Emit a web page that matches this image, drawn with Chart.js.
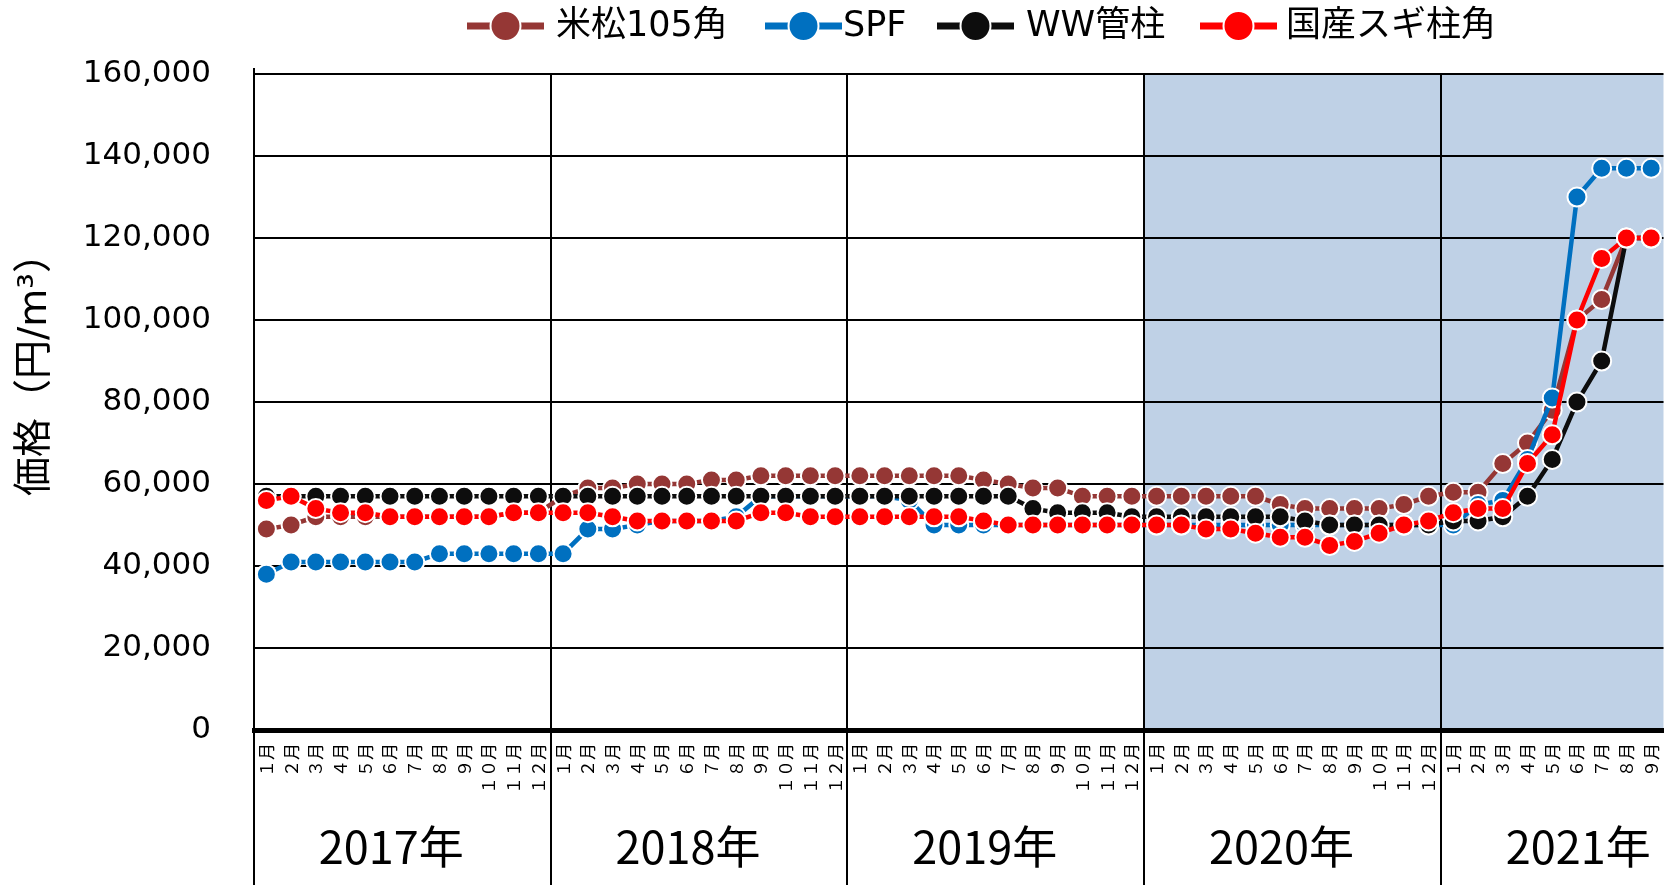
<!DOCTYPE html>
<html>
<head>
<meta charset="utf-8">
<script src="https://cdn.jsdelivr.net/npm/chart.js@4.4.1/dist/chart.umd.min.js"></script>
<style>
  html, body { margin: 0; padding: 0; background: #ffffff; }
  canvas { display: block; }
</style>
</head>
<body>
<canvas id="chart" width="1675" height="885"></canvas>
<script>
// Category structure: months grouped by year
const years = ['2017年', '2018年', '2019年', '2020年', '2021年'];
const monthsInYear = [12, 12, 12, 12, 9];
const monthNames = ['１月', '２月', '３月', '４月', '５月', '６月', '７月', '８月', '９月', '１０月', '１１月', '１２月'];

// Y axis range (円/m³)
const yMin = 0;
const yMax = 160000;
const yStep = 20000;

// Monthly prices, Jan 2017 – Sep 2021
const beimatsu105 = [
  49000, 50000, 52000, 52000, 52000, 52000, 52000, 52000, 52000, 52000, 53000, 53000,
  57000, 59000, 59000, 60000, 60000, 60000, 61000, 61000, 62000, 62000, 62000, 62000,
  62000, 62000, 62000, 62000, 62000, 61000, 60000, 59000, 59000, 57000, 57000, 57000,
  57000, 57000, 57000, 57000, 57000, 55000, 54000, 54000, 54000, 54000, 55000, 57000,
  58000, 58000, 65000, 70000, 78000, 100000, 105000, 120000, 120000
];
const spf = [
  38000, 41000, 41000, 41000, 41000, 41000, 41000, 43000, 43000, 43000, 43000, 43000,
  43000, 49000, 49000, 50000, 51000, 51000, 51000, 52000, 57000, 57000, 57000, 57000,
  57000, 57000, 56000, 50000, 50000, 50000, 50000, 50000, 50000, 50000, 50000, 50000,
  50000, 50000, 50000, 50000, 50000, 50000, 50000, 50000, 50000, 50000, 50000, 50000,
  50000, 55000, 56000, 66000, 81000, 130000, 137000, 137000, 137000
];
const wwKanchu = [
  57000, 57000, 57000, 57000, 57000, 57000, 57000, 57000, 57000, 57000, 57000, 57000,
  57000, 57000, 57000, 57000, 57000, 57000, 57000, 57000, 57000, 57000, 57000, 57000,
  57000, 57000, 57000, 57000, 57000, 57000, 57000, 54000, 53000, 53000, 53000, 52000,
  52000, 52000, 52000, 52000, 52000, 52000, 51000, 50000, 50000, 50000, 50000, 50000,
  51000, 51000, 52000, 57000, 66000, 80000, 90000, 120000, 120000
];
const kokusanSugi = [
  56000, 57000, 54000, 53000, 53000, 52000, 52000, 52000, 52000, 52000, 53000, 53000,
  53000, 53000, 52000, 51000, 51000, 51000, 51000, 51000, 53000, 53000, 52000, 52000,
  52000, 52000, 52000, 52000, 52000, 51000, 50000, 50000, 50000, 50000, 50000, 50000,
  50000, 50000, 49000, 49000, 48000, 47000, 47000, 45000, 46000, 48000, 50000, 51000,
  53000, 54000, 54000, 65000, 72000, 100000, 115000, 120000, 120000
];

const seriesNames = ['米松105角', 'SPF', 'WW管柱', '国産スギ柱角'];
const seriesValues = [beimatsu105, spf, wwKanchu, kokusanSugi];
const seriesColors = ['#953735', '#0070C0', '#0D0D0D', '#FF0000'];
const seriesStack = [4, 3, 2, 1]; // red drawn on top, brown at the bottom

const yAxisTitle = '価格（円/m³）';
const shadedFromYear = '2020年';

// Flatten the year/month structure into category labels
const labels = [];
const yearStart = [];
years.forEach((y, i) => {
  yearStart.push(labels.length);
  for (let m = 0; m < monthsInYear[i]; m++) labels.push(monthNames[m]);
});

const CJK = '"Noto Sans CJK JP", "Noto Sans", sans-serif';
const MIXED = '"DejaVu Sans", "Noto Sans CJK JP", sans-serif';

const decorations = {
  id: 'decorations',
  beforeDraw(chart) {
    const { ctx, chartArea: a, scales: { x } } = chart;
    const start = yearStart[years.indexOf(shadedFromYear)];
    const x0 = x.getPixelForValue(start - 0.5);
    ctx.save();
    ctx.fillStyle = '#BFD1E6';
    ctx.fillRect(x0, a.top, a.right - x0, a.bottom - a.top);
    ctx.restore();
  },
  beforeDatasetsDraw(chart) {
    const { ctx, chartArea: a, scales: { x } } = chart;
    ctx.save();
    ctx.strokeStyle = '#000';
    ctx.lineWidth = 2;
    ctx.beginPath();
    for (let i = 1; i < years.length; i++) {
      const px = Math.round(x.getPixelForValue(yearStart[i] - 0.5));
      ctx.moveTo(px, a.top);
      ctx.lineTo(px, chart.height);
    }
    // value axis line continues below the plot and slightly above it
    ctx.moveTo(a.left, a.top - 6);
    ctx.lineTo(a.left, a.top);
    ctx.moveTo(a.left, a.bottom);
    ctx.lineTo(a.left, chart.height);
    ctx.stroke();
    ctx.restore();
  },
  afterDraw(chart) {
    const { ctx, scales: { x } } = chart;
    ctx.save();
    ctx.fillStyle = '#000';

    // Year labels under the month labels
    ctx.font = '45px ' + CJK;
    ctx.textAlign = 'center';
    ctx.textBaseline = 'middle';
    years.forEach((y, i) => {
      ctx.fillText(y, x.getPixelForValue(yearStart[i] + 5.05), 847);
    });

    // Rotated y-axis title
    ctx.save();
    ctx.translate(36, 365);
    ctx.rotate(-Math.PI / 2);
    ctx.font = '39px ' + MIXED;
    ctx.fillText(yAxisTitle, 0, 0);
    ctx.restore();

    // Legend: line-with-marker swatch followed by the series name
    const swatchX = [467, 765, 937, 1200];
    const textX = [556, 843, 1026, 1286];
    const cy = 26;
    ctx.font = '35px ' + MIXED;
    ctx.textAlign = 'left';
    seriesNames.forEach((name, i) => {
      const x0 = swatchX[i];
      ctx.strokeStyle = seriesColors[i];
      ctx.lineWidth = 7;
      ctx.beginPath();
      ctx.moveTo(x0, cy);
      ctx.lineTo(x0 + 77, cy);
      ctx.stroke();
      ctx.beginPath();
      ctx.arc(x0 + 38.5, cy, 15, 0, Math.PI * 2);
      ctx.fillStyle = seriesColors[i];
      ctx.fill();
      ctx.lineWidth = 2;
      ctx.strokeStyle = '#fff';
      ctx.stroke();
      ctx.fillStyle = '#000';
      ctx.fillText(name, textX[i], cy + 1);
    });
    ctx.restore();
  }
};

new Chart(document.getElementById('chart'), {
  type: 'line',
  data: {
    labels: labels,
    datasets: seriesNames.map((name, i) => ({
      label: name,
      data: seriesValues[i],
      order: seriesStack[i],
      borderColor: seriesColors[i],
      backgroundColor: seriesColors[i],
      borderWidth: 4.5,
      tension: 0,
      pointRadius: 9.5,
      pointHoverRadius: 9.5,
      pointBorderColor: '#ffffff',
      pointBackgroundColor: seriesColors[i],
      pointBorderWidth: 2,
      fill: false
    }))
  },
  options: {
    responsive: false,
    animation: false,
    events: [],
    layout: { padding: { top: 74, right: 0, left: 0, bottom: 0 } },
    plugins: {
      legend: { display: false },
      tooltip: { enabled: false }
    },
    scales: {
      x: {
        type: 'category',
        offset: true,
        grid: { display: false, drawTicks: false },
        border: { display: true, color: '#000', width: 5 },
        ticks: {
          autoSkip: false,
          minRotation: 90,
          maxRotation: 90,
          padding: 13,
          color: '#000',
          font: { family: CJK, size: 17 }
        },
        afterFit(scale) {
          scale.height = 155;
          scale.paddingLeft = 0;
          scale.paddingRight = 0;
        }
      },
      y: {
        min: yMin,
        max: yMax,
        grid: { color: '#000', lineWidth: 2, drawTicks: false },
        border: { display: true, color: '#000', width: 2 },
        ticks: {
          stepSize: yStep,
          padding: 43,
          color: '#000',
          font: { family: '"DejaVu Sans", sans-serif', size: 31 },
          callback: (v) => v.toLocaleString('en-US')
        },
        afterFit(scale) { scale.width = 254; }
      }
    }
  },
  plugins: [decorations]
});
</script>
</body>
</html>
